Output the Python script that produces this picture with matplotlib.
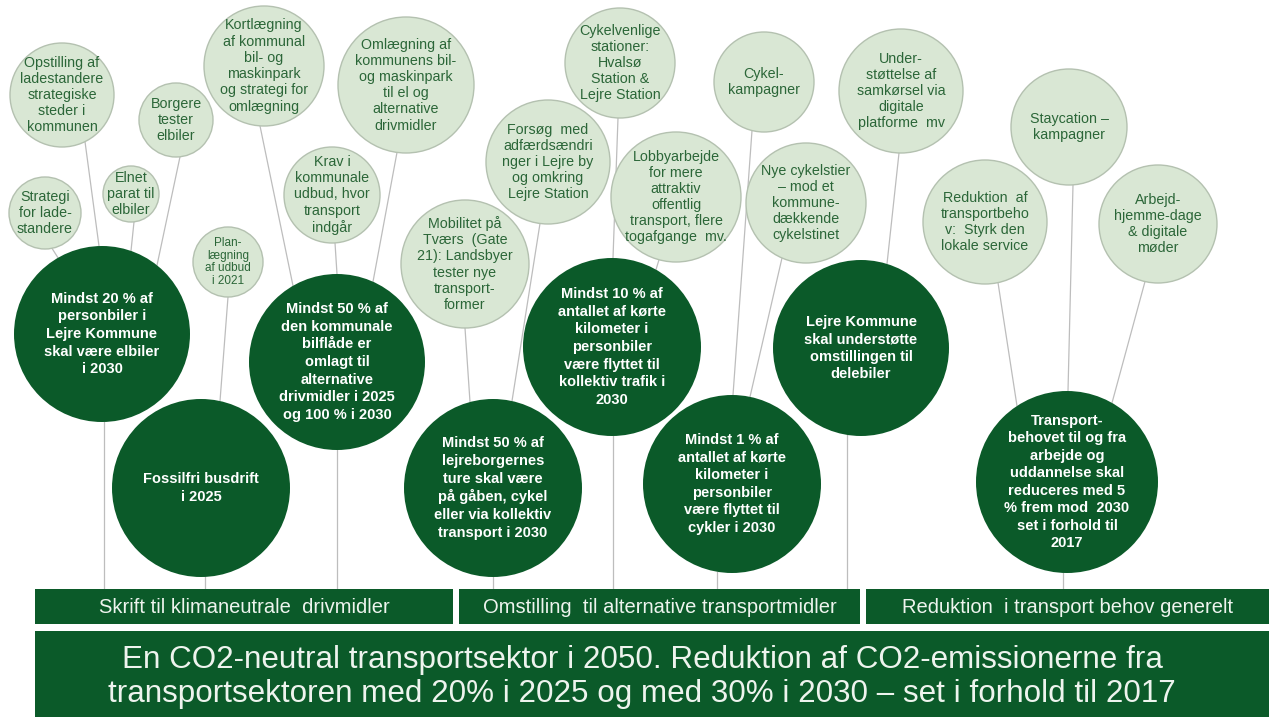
import numpy as np
import matplotlib.pyplot as plt
from matplotlib.patches import Circle, Rectangle

plt.rcParams['font.family'] = ['Liberation Sans', 'DejaVu Sans']

# --- tekster ---
lette_tekster = [
    'Strategi\nfor lade-\nstandere',
    'Elnet\nparat til\nelbiler',
    'Opstilling af\nladestandere\nstrategiske\nsteder i\nkommunen',
    'Borgere\ntester\nelbiler',
    'Kortlægning\naf kommunal\nbil- og\nmaskinpark\nog strategi for\nomlægning',
    'Krav i\nkommunale\nudbud, hvor\ntransport\nindgår',
    'Plan-\nlægning\naf udbud\ni 2021',
    'Omlægning af\nkommunens bil-\nog maskinpark\ntil el og\nalternative\ndrivmidler',
    'Mobilitet på\nTværs  (Gate\n21): Landsbyer\ntester nye\ntransport-\nformer',
    'Forsøg  med\nadfærdsændri\nnger i Lejre by\nog omkring\nLejre Station',
    'Cykelvenlige\nstationer:\nHvalsø\nStation &\nLejre Station',
    'Lobbyarbejde\nfor mere\nattraktiv\noffentlig\ntransport, flere\ntogafgange  mv.',
    'Cykel-\nkampagner',
    'Nye cykelstier\n– mod et\nkommune-\ndækkende\ncykelstinet',
    'Under-\nstøttelse af\nsamkørsel via\ndigitale\nplatforme  mv',
    'Staycation –\nkampagner',
    'Reduktion  af\ntransportbeho\nv:  Styrk den\nlokale service',
    'Arbejd-\nhjemme-dage\n& digitale\nmøder',
]

moerke_tekster = [
    'Mindst 20 % af\npersonbiler i\nLejre Kommune\nskal være elbiler\ni 2030',
    'Fossilfri busdrift\ni 2025',
    'Mindst 50 % af\nden kommunale\nbilflåde er\nomlagt til\nalternative\ndrivmidler i 2025\nog 100 % i 2030',
    'Mindst 50 % af\nlejreborgernes\nture skal være\npå gåben, cykel\neller via kollektiv\ntransport i 2030',
    'Mindst 10 % af\nantallet af kørte\nkilometer i\npersonbiler\nvære flyttet til\nkollektiv trafik i\n2030',
    'Mindst 1 % af\nantallet af kørte\nkilometer i\npersonbiler\nvære flyttet til\ncykler i 2030',
    'Lejre Kommune\nskal understøtte\nomstillingen til\ndelebiler',
    'Transport-\nbehovet til og fra\narbejde og\nuddannelse skal\nreduceres med 5\n% frem mod  2030\nset i forhold til\n2017',
]

bjaelke_tekster = [
    'Skrift til klimaneutrale  drivmidler',
    'Omstilling  til alternative transportmidler',
    'Reduktion  i transport behov generelt',
]

overskrift = ('En CO2-neutral transportsektor i 2050. Reduktion af CO2-emissionerne fra\n'
              'transportsektoren med 20% i 2025 og med 30% i 2030 – set i forhold til 2017')

# --- layout (pixels, y nedad) ---
lette_pos = [(45, 213, 36), (131, 194, 28), (62, 95, 52), (176, 120, 37),
             (264, 66, 60), (332, 195, 48), (228, 262, 35), (406, 85, 68),
             (465, 264, 64), (548, 162, 62), (620, 63, 55), (676, 197, 65),
             (764, 82, 50), (806, 203, 60), (901, 91, 62), (1069, 127, 58),
             (985, 222, 62), (1158, 224, 59)]
lette_fs = [10.3, 10.3, 10.3, 10.3, 10.3, 10.3, 8.5, 10.3, 10.3, 10.3,
            10.3, 10.3, 10.3, 10.3, 10.3, 10.3, 10.3, 10.3]

moerke_pos = [(102, 334, 88), (201, 488, 89), (337, 362, 88), (493, 488, 89),
              (612, 347, 89), (732, 484, 89), (861, 348, 88), (1067, 482, 91)]

# forbindelser: (let cirkel, mørk cirkel, x ved let, x ved mørk)
forbindelser = [(0, 0, 52, 58), (2, 0, 85, 99), (1, 0, 134, 131), (3, 0, 180, 157),
                (4, 2, 260, 293), (5, 2, 335, 337), (7, 2, 397, 373), (6, 1, 228, 220),
                (8, 3, 465, 470), (9, 3, 540, 512), (10, 4, 618, 613), (11, 4, 659, 656),
                (12, 5, 752, 733), (13, 5, 782, 750), (14, 6, 899, 887),
                (16, 7, 998, 1017), (15, 7, 1073, 1068), (17, 7, 1145, 1112)]
# lodrette streger fra mørk cirkel ned til bjælken
ned_x = [104, 205, 337, 493, 613, 717, 847, 1063]

bjaelker = [(35, 453), (459, 860), (866, 1269)]
bjaelke_y = (589, 624)
banner_y = (631, 717)

moerk = '#0b5a29'
lys = '#d9e7d4'
kant = '#b4c1b0'
lys_tekst = '#2b6638'
streg = '#bdbdbd'

fig = plt.figure(figsize=(12.69, 7.17), dpi=100)
ax = fig.add_axes([0, 0, 1, 1])
ax.set_xlim(0, 1269)
ax.set_ylim(717, 0)
ax.axis('off')


def kant_y(cx, cy, r, x, nederst):
    d = np.sqrt(max(r**2 - (x - cx)**2, 0))
    return cy + d if nederst else cy - d


for i, j, xa, xb in forbindelser:
    cx, cy, r = lette_pos[i]
    mx, my, mr = moerke_pos[j]
    ax.plot([xa, xb], [kant_y(cx, cy, r, xa, True), kant_y(mx, my, mr, xb, False)],
            color=streg, lw=0.9, zorder=1)

for k, x in enumerate(ned_x):
    mx, my, mr = moerke_pos[k]
    ax.plot([x, x], [kant_y(mx, my, mr, x, True), bjaelke_y[0]], color=streg, lw=0.9, zorder=1)

for (cx, cy, r), txt, fs in zip(lette_pos, lette_tekster, lette_fs):
    ax.add_patch(Circle((cx, cy), r, facecolor=lys, edgecolor=kant, lw=1, zorder=2))
    ax.text(cx, cy, txt, ha='center', va='center', multialignment='center',
            fontsize=fs, color=lys_tekst, linespacing=1.05 if fs < 9 else 1.2, zorder=3)

for (cx, cy, r), txt in zip(moerke_pos, moerke_tekster):
    ax.add_patch(Circle((cx, cy), r, facecolor=moerk, edgecolor='none', zorder=2))
    ax.text(cx, cy, txt, ha='center', va='center', multialignment='center',
            fontsize=10.5, fontweight='bold', color='white', linespacing=1.32, zorder=3)

for (x0, x1), txt in zip(bjaelker, bjaelke_tekster):
    ax.add_patch(Rectangle((x0, bjaelke_y[0]), x1 - x0, bjaelke_y[1] - bjaelke_y[0],
                           facecolor=moerk, edgecolor='none', zorder=2))
    ax.text((x0 + x1) / 2, sum(bjaelke_y) / 2 + 1, txt, ha='center', va='center',
            fontsize=14.5, color='#eef4ee', zorder=3)

ax.add_patch(Rectangle((35, banner_y[0]), 1269 - 35, banner_y[1] - banner_y[0],
                       facecolor=moerk, edgecolor='none', zorder=2))
ax.text(642, sum(banner_y) / 2 + 3, overskrift, ha='center', va='center',
        multialignment='center', fontsize=22.6, color='#eef4ee', linespacing=1.2, zorder=3)

fig.savefig('out.png', dpi=100)
